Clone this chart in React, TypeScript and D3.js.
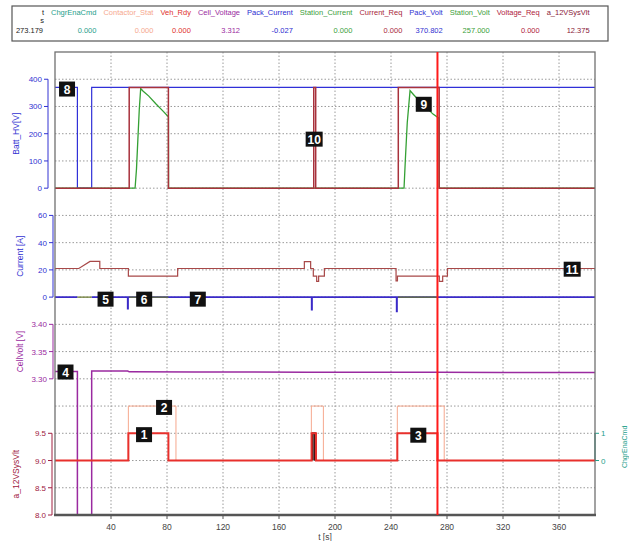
import React from 'react';
import * as d3 from 'd3';

// ---------- data ----------
const timeTicks = [40, 80, 120, 160, 200, 240, 280, 320, 360];
const hvTicks = [0, 100, 200, 300, 400];
const currentTicks = [0, 20, 40, 60];
const cellTicks = [3.3, 3.35, 3.4];
const sysTicks = [8.0, 8.5, 9.0, 9.5];
const boolTicks = [0, 1];

const cursorTime = 273.179;

const headerNames = ['ChgrEnaCmd', 'Contactor_Stat', 'Veh_Rdy', 'Cell_Voltage', 'Pack_Current', 'Station_Current', 'Current_Req', 'Pack_Volt', 'Station_Volt', 'Voltage_Req', 'a_12VSysVlt'];
const headerValues = ['0.000', '0.000', '0.000', '3.312', '-0.027', '0.000', '0.000', '370.802', '257.000', '0.000', '12.375'];
const headerColors = ['#1fa08c', '#f6a88e', '#e0302c', '#9a2aa0', '#2a2ad0', '#3aa03a', '#a8283a', '#3030d0', '#3aa03a', '#b0203c', '#8a1a3a'];

// Batt_HV panel (step signals: [t, value])
const packVolt: [number, number][] = [[0, 370], [16, 0], [26.2, 370], [386, 370]];
const voltageReq: [number, number][] = [[0, 0], [53, 370], [81, 0], [184.8, 370], [186.2, 0], [245.2, 370], [274.4, 0], [386, 0]];
const stationVolt: [number, number][] = [
  [0, 0], [57.2, 0], [58.2, 70], [59.2, 180], [60.2, 290], [61.2, 366], [63, 356], [67, 338], [72, 310], [77, 284], [81, 262], [81.1, 0],
  [249.3, 0], [250.3, 110], [251.6, 240], [253.6, 358], [256, 344], [261, 316], [266, 292], [270, 272], [274.2, 257], [274.4, 0], [386, 0],
];

// Current panel
const currentReq: [number, number][] = [
  [0, 21], [17, 21], [25, 26.2], [32, 26.2], [32, 21], [52.4, 21], [52.4, 15.4], [87.6, 15.4], [87.6, 21],
  [178.1, 21], [178.1, 26], [182.6, 26], [182.6, 21], [184.5, 21], [184.5, 15.4], [186.9, 15.4], [186.9, 11.5], [188.3, 11.5], [188.3, 15.4], [192.4, 15.4], [192.4, 21],
  [243.6, 21], [243.6, 12], [244.6, 12], [244.6, 15.4], [274.5, 15.4], [274.5, 11.5], [276.9, 11.5], [276.9, 15.4], [280.3, 15.4], [280.3, 21], [386, 21],
];
const packCurrent: [number, number][] = [
  [0, 0], [16, 0], [16, NaN], [26.2, NaN], [26.2, 0], [51.9, 0], [51.9, -8.5], [52.2, -8.5], [52.2, 0],
  [183.3, 0], [183.3, -9.3], [183.6, -9.3], [183.6, 0], [244, 0], [244, -10.5], [244.3, -10.5], [244.3, 0], [386, 0],
];
const stationCurrent: [number, number][] = [
  [16, 0], [26.2, 0], [26.2, NaN], [53, NaN], [53, 0], [81, 0], [81, NaN], [245, NaN], [245, 0], [273.2, 0],
];

// CellVolt panel
const cellVoltage: [number, number][] = [
  [0, 3.3135], [16, 3.3135], [16, 0], [26.2, 0], [26.2, 3.3145], [52, 3.3142], [53, 3.3128], [100, 3.3126], [180, 3.3122], [273, 3.3119], [320, 3.3116], [386, 3.3114],
];

// a_12VSysVlt panel / boolean right axis
const chgrEnaCmd: [number, number][] = [[184, NaN], [184, 0], [184, 1], [185.6, 1], [185.6, 0], [185.6, NaN]];
const vehRdy: [number, number][] = [[0, 0], [52.4, 1], [81, 0], [183.3, 1], [186.4, 0], [244.5, 1], [273.2, 0], [386, 0]];
const contactorStat: [number, number][] = [[0, 0], [52.4, 2], [86.4, 0], [183.1, 2], [191.7, 0], [244.5, 2], [278, 0], [386, 0]];

// annotation markers: label, time, panel, value
const markers: [string, number, string, number][] = [
  ['1', 63.6, 'bool', 0.95], ['2', 77.9, 'bool', 1.95], ['3', 259.5, 'bool', 0.93], ['4', 7.5, 'cell', 3.3125],
  ['5', 36.1, 'cur', -1.5], ['6', 63.7, 'cur', -1.5], ['7', 102, 'cur', -1.5], ['8', 8.6, 'hv', 364],
  ['9', 263.4, 'hv', 308], ['10', 185.1, 'hv', 180], ['11', 369.4, 'cur', 20.5],
];

// ---------- layout ----------
const FONT = 'Liberation Sans, Arial, sans-serif';
const L = 55, R = 595, T = 52, B = 515;
const HDR_FS = 7.5;

function textWidth(s: string, fs: number) {
  if (typeof document === 'undefined') return s.length * fs * 0.55;
  const c = (textWidth as any)._c || ((textWidth as any)._c = document.createElement('canvas'));
  const ctx = c.getContext('2d');
  ctx.font = `${fs}px ${FONT}`;
  return ctx.measureText(s).width;
}

export default function App() {
  const x = d3.scaleLinear().domain([0, 385.7]).range([L, R]);
  const row = d3.scaleLinear().domain([0, 17]).range([T, B]);
  const yHV = d3.scaleLinear().domain([0, 400]).range([row(5), row(1)]);
  const yCur = d3.scaleLinear().domain([0, 60]).range([row(9), row(6)]);
  const yCell = d3.scaleLinear().domain([3.3, 3.4]).range([row(12), row(10)]);
  const ySys = d3.scaleLinear().domain([8.0, 9.5]).range([row(17), row(14)]);
  const yBool = d3.scaleLinear().domain([0, 1]).range([row(15), row(14)]);
  const scales: Record<string, d3.ScaleLinear<number, number>> = { hv: yHV, cur: yCur, cell: yCell, sys: ySys, bool: yBool };

  const mk = (y: d3.ScaleLinear<number, number>, step = false) =>
    d3.line<[number, number]>()
      .defined(d => !isNaN(d[1]))
      .x(d => x(d[0]))
      .y(d => y(d[1]))
      .curve(step ? d3.curveStepAfter : d3.curveLinear);

  const gridY = d3.range(1, 17).map(k => row(k));

  const leftAxes = [
    { ticks: hvTicks, y: yHV, ax: 48, color: '#3232d2', fmt: (v: number) => String(v), title: 'Batt_HV[V]', tx: 18.5 },
    { ticks: currentTicks, y: yCur, ax: 53, color: '#3232d2', fmt: (v: number) => String(v), title: 'Current [A]', tx: 22.5 },
    { ticks: cellTicks, y: yCell, ax: 53, color: '#9a2aa0', fmt: (v: number) => v.toFixed(2), title: 'CellVolt [V]', tx: 22.5 },
    { ticks: sysTicks, y: ySys, ax: 52, color: '#a02040', fmt: (v: number) => v.toFixed(1), title: 'a_12VSysVlt', tx: 18.5 },
  ];

  // sequential header columns
  const gap = 7;
  let cur = 51;
  const cols = headerNames.map(n => {
    const w = textWidth(n, HDR_FS);
    const c = { start: cur, end: cur + w };
    cur += w + gap;
    return c;
  });

  return (
    <svg width={629} height={541} style={{ display: 'block', position: 'absolute', left: 0, top: 0, background: '#fff' }} fontFamily={FONT}>
      <defs>
        <clipPath id="plotClip">
          <rect x={L} y={T} width={R - L} height={B - T} />
        </clipPath>
      </defs>
      <rect x={0} y={0} width={629} height={541} fill="#fff" />

      {/* header table */}
      <rect x={12} y={6} width={596} height={35} fill="#fff" stroke="#555" strokeWidth={1.2} />
      <text x={44} y={15} fontSize={HDR_FS} textAnchor="end" fill="#222">t</text>
      <text x={44} y={23} fontSize={HDR_FS} textAnchor="end" fill="#222">s</text>
      <text x={43} y={33} fontSize={HDR_FS} textAnchor="end" fill="#222">{cursorTime.toFixed(3)}</text>
      {headerNames.map((n, i) => (
        <g key={n}>
          <text x={cols[i].start} y={15} fontSize={HDR_FS} fill={headerColors[i]}>{n}</text>
          <text x={cols[i].end} y={33} fontSize={HDR_FS} textAnchor="end" fill={headerColors[i]}>{headerValues[i]}</text>
        </g>
      ))}

      {/* grid */}
      <g stroke="#9a9a9a" strokeWidth={1} strokeDasharray="1.5,2">
        {gridY.map((gy, i) => <line key={'h' + i} x1={L} x2={R} y1={gy} y2={gy} />)}
        {timeTicks.map(t => <line key={'v' + t} x1={x(t)} x2={x(t)} y1={T} y2={B} />)}
      </g>

      {/* left axes */}
      {leftAxes.map((a, i) => {
        const ys = a.ticks.map(v => a.y(v));
        return (
          <g key={i}>
            <line x1={a.ax} x2={a.ax} y1={Math.min(...ys)} y2={Math.max(...ys)} stroke={a.color} strokeWidth={1} />
            {a.ticks.map(v => (
              <g key={v}>
                <line x1={a.ax - 4} x2={a.ax} y1={a.y(v)} y2={a.y(v)} stroke={a.color} />
                <text x={a.ax - 6} y={a.y(v) + 3} fontSize={8} textAnchor="end" fill={a.color}>{a.fmt(v)}</text>
              </g>
            ))}
            <text transform={`translate(${a.tx},${(Math.min(...ys) + Math.max(...ys)) / 2}) rotate(-90)`} fontSize={8.5} textAnchor="middle" fill={a.color}>{a.title}</text>
          </g>
        );
      })}

      {/* right boolean axis */}
      <g>
        <line x1={R} x2={R} y1={yBool(1)} y2={yBool(0)} stroke="#1f8c78" strokeWidth={1.2} />
        {boolTicks.map(v => (
          <g key={v}>
            <line x1={R} x2={R + 4} y1={yBool(v)} y2={yBool(v)} stroke="#1fa08c" />
            <text x={R + 6} y={yBool(v) + 3} fontSize={8} fill="#1fa08c">{v}</text>
          </g>
        ))}
        <text transform={`translate(627,${(yBool(0) + yBool(1)) / 2}) rotate(-90)`} fontSize={7} textAnchor="middle" fill="#1fa08c">ChgrEnaCmd</text>
      </g>

      {/* traces */}
      <g clipPath="url(#plotClip)" fill="none">
        <path d={mk(yHV, true)(packVolt) || ''} stroke="#3030d8" strokeWidth={1.2} />
        <path d={mk(yHV)(stationVolt) || ''} stroke="#34a034" strokeWidth={1.3} />
        <path d={mk(yHV, true)(voltageReq) || ''} stroke="#a8323c" strokeWidth={1.5} />

        <path d={mk(yCur)(currentReq) || ''} stroke="#a84848" strokeWidth={1.2} />
        <path d={mk(yCur)(packCurrent) || ''} stroke="#3a2ac8" strokeWidth={1.6} />
        <path d={mk(yCur)(stationCurrent) || ''} stroke="#6a7a30" strokeWidth={1.4} />

        <path d={mk(yCell)(cellVoltage) || ''} stroke="#9a2aa0" strokeWidth={1.5} />

        <path d={mk(yBool)(chgrEnaCmd) || ''} stroke="#3a1616" strokeWidth={2} />
        <path d={mk(yBool, true)(contactorStat) || ''} stroke="#f6a88e" strokeWidth={1} />
        <path d={mk(yBool, true)(vehRdy) || ''} stroke="#e8302c" strokeWidth={2} />
      </g>

      {/* frame */}
      <rect x={L} y={T} width={R - L} height={B - T} fill="none" stroke="#707070" strokeWidth={1.3} />
      <line x1={L - 1} x2={R + 1} y1={B} y2={B} stroke="#555" strokeWidth={2.5} />

      {/* x axis */}
      {timeTicks.map(t => (
        <g key={t}>
          <line x1={x(t)} x2={x(t)} y1={B} y2={B + 4} stroke="#555" />
          <text x={x(t)} y={530} fontSize={8.5} textAnchor="middle" fill="#444">{t}</text>
        </g>
      ))}
      <text x={(L + R) / 2} y={540} fontSize={8.5} textAnchor="middle" fill="#444">t [s]</text>

      {/* cursor */}
      <line x1={x(cursorTime)} x2={x(cursorTime)} y1={T} y2={B} stroke="#ff1a1a" strokeWidth={2} />

      {/* markers */}
      {markers.map(([lab, t, p, v]) => {
        const cx = x(t), cy = scales[p](v);
        const w = lab.length > 1 ? 17 : 16;
        return (
          <g key={lab}>
            <rect x={cx - w / 2} y={cy - 7.5} width={w} height={15} fill="#111" />
            <text x={cx} y={cy + 4.5} fontSize={12} fontWeight="bold" textAnchor="middle" fill="#fff">{lab}</text>
          </g>
        );
      })}
    </svg>
  );
}
